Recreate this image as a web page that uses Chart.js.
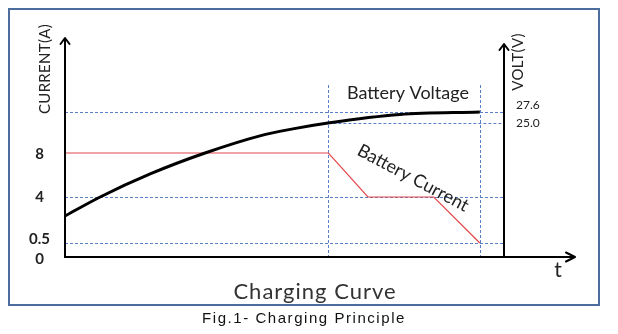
<!DOCTYPE html>
<html>
<head>
<meta charset="utf-8">
<script src="https://cdn.jsdelivr.net/npm/chart.js@4.4.1/dist/chart.umd.min.js"></script>
<style>
html,body{margin:0;padding:0;background:#fff;}
#wrap{position:relative;width:618px;height:334px;overflow:hidden;}
#box{position:absolute;left:8px;top:8px;width:588px;height:294px;border:2px solid #4d6d9e;}
#c{position:absolute;left:0;top:0;}
#cap{position:absolute;left:0;width:608px;top:309px;text-align:center;font:15px "Liberation Sans",Arial,sans-serif;letter-spacing:1.55px;color:#111;white-space:nowrap;}
</style>
</head>
<body>
<div id="wrap">
  <div id="box"></div>
  <canvas id="c" width="618" height="334"></canvas>
  <div id="cap">Fig.1- Charging Principle</div>
</div>
<script>
// ---- data (schematic time units) ----
const voltTime  = [0, 0.8, 1.94, 3.19, 4.44, 5.19, 5.99, 7.63, 9.45];
const voltValue = [7.65, 11.2, 15.5, 19.4, 22.6, 23.9, 25.0, 27.0, 27.6];
const currTime  = [0, 6.0, 6.9, 8.4, 9.45];
const currValue = [8, 8, 4, 4, 0.5];
const currentTicks = [0, 0.5, 4, 8];
const voltTicks = [25.0, 27.6];
const currentGrid = [0.5, 4];
const voltGrid = [27.6, 25.0];
const voltGridFrom = [0, 6.0];
const phaseMarks = [6.0, 9.45];

// piecewise (schematic) value axis
class PiecewiseScale extends Chart.LinearScale {
  static id = 'piecewise';
  _frac(v) {
    const a = this.options.anchors;
    if (v <= a[0][0]) return a[0][1];
    for (let i = 1; i < a.length; i++) {
      if (v <= a[i][0]) {
        const v0 = a[i-1][0], f0 = a[i-1][1], v1 = a[i][0], f1 = a[i][1];
        return f0 + (v - v0) / (v1 - v0) * (f1 - f0);
      }
    }
    return a[a.length-1][1];
  }
  getPixelForValue(value) {
    if (value === null || value === undefined || isNaN(value)) return NaN;
    return this.getPixelForDecimal(this._frac(value));
  }
  getValueForPixel(pixel) {
    const f = this.getDecimalForPixel(pixel);
    const a = this.options.anchors;
    for (let i = 1; i < a.length; i++) {
      if (f <= a[i][1]) {
        const v0 = a[i-1][0], f0 = a[i-1][1], v1 = a[i][0], f1 = a[i][1];
        return v0 + (f - f0) / (f1 - f0) * (v1 - v0);
      }
    }
    return a[a.length-1][0];
  }
  _computeLabelItems(chartArea) {
    const items = super._computeLabelItems(chartArea);
    const nudge = this.options.labelNudge || {};
    items.forEach(it => {
      const d = nudge[String(it.label)];
      if (d) it.options.translation[1] += d;
    });
    return items;
  }
}
Chart.register(PiecewiseScale);

function seg(ctx, x1, y1, x2, y2) { ctx.beginPath(); ctx.moveTo(x1, y1); ctx.lineTo(x2, y2); ctx.stroke(); }

const deco = {
  id: 'deco',
  beforeDatasetsDraw(chart) {
    const {ctx, chartArea: ca} = chart;
    const x = chart.scales.x, y = chart.scales.y, y1 = chart.scales.y1;
    ctx.save();
    ctx.strokeStyle = '#5b80c6';
    ctx.lineWidth = 1;
    ctx.setLineDash([3, 2]);
    currentGrid.forEach(v => {
      const py = Math.round(y.getPixelForValue(v)) + 0.5;
      seg(ctx, ca.left, py, ca.right, py);
    });
    voltGrid.forEach((v, i) => {
      const py = Math.round(y1.getPixelForValue(v)) + 0.5;
      seg(ctx, x.getPixelForValue(voltGridFrom[i]), py, ca.right, py);
    });
    phaseMarks.forEach(t => {
      const px = Math.round(x.getPixelForValue(t)) + 0.5;
      seg(ctx, px, 85, px, ca.bottom);
    });
    ctx.restore();
  },
  afterDraw(chart) {
    const {ctx, chartArea: ca} = chart;
    const x = chart.scales.x, y = chart.scales.y;
    const ox = x.getPixelForValue(0), oy = y.getPixelForValue(0);
    ctx.save();
    ctx.strokeStyle = '#000';
    ctx.lineWidth = 2;
    ctx.lineCap = 'butt';
    seg(ctx, ox, oy + 1, ox, 38);
    seg(ctx, ox - 1, oy, 575, oy);
    seg(ctx, ca.right, oy, ca.right, 44);
    ctx.lineCap = 'round';
    ctx.lineJoin = 'round';
    function arrowUp(px, py) { ctx.beginPath(); ctx.moveTo(px - 4.5, py + 6); ctx.lineTo(px, py); ctx.lineTo(px + 4.5, py + 6); ctx.stroke(); }
    arrowUp(ox, 38);
    arrowUp(ca.right, 44);
    ctx.beginPath(); ctx.moveTo(566, oy - 4.5); ctx.lineTo(575, oy); ctx.lineTo(566, oy + 4.5); ctx.stroke();

    ctx.fillStyle = '#222';
    ctx.textBaseline = 'middle';
    ctx.textAlign = 'center';
    ctx.font = '15px Lato, "Open Sans", sans-serif';
    ctx.letterSpacing = '0.3px';
    ctx.save(); ctx.translate(45, 69); ctx.rotate(-Math.PI / 2); ctx.fillText('CURRENT(A)', 0, 0); ctx.restore();
    ctx.save(); ctx.translate(518, 62); ctx.rotate(-Math.PI / 2); ctx.fillText('VOLT(V)', 0, 0); ctx.restore();
    ctx.letterSpacing = '0px';
    ctx.font = '18px Lato, "Open Sans", sans-serif';
    ctx.fillText('Battery Voltage', 408, 93);
    ctx.save(); ctx.translate(413, 178); ctx.rotate(28 * Math.PI / 180); ctx.fillText('Battery Current', 0, 0); ctx.restore();
    ctx.font = '21px Lato, "Open Sans", sans-serif';
    ctx.fillText('t', 558, 270);
    ctx.fillStyle = '#333';
    ctx.font = '22px Lato, "Open Sans", sans-serif';
    ctx.letterSpacing = '1px';
    ctx.fillText('Charging Curve', 315, 292);
    ctx.restore();
  }
};

new Chart(document.getElementById('c'), {
  type: 'line',
  data: {
    datasets: [
      {
        label: 'Battery Voltage',
        yAxisID: 'y1',
        data: voltTime.map((t, i) => ({x: t, y: voltValue[i]})),
        borderColor: '#000',
        borderWidth: 3,
        pointRadius: 0,
        cubicInterpolationMode: 'monotone',
        fill: false
      },
      {
        label: 'Battery Current',
        yAxisID: 'y',
        data: currTime.map((t, i) => ({x: t, y: currValue[i]})),
        borderColor: '#e4474b',
        borderWidth: 1.2,
        pointRadius: 0,
        tension: 0,
        fill: false
      }
    ]
  },
  options: {
    responsive: false,
    animation: false,
    events: [],
    layout: {padding: {left: 0, right: 0, top: 25, bottom: 77}},
    plugins: {legend: {display: false}, tooltip: {enabled: false}, title: {display: false}},
    scales: {
      x: {
        type: 'linear', min: 0, max: 10, display: false
      },
      y: {
        type: 'piecewise',
        position: 'left',
        min: 0, max: 19.6,
        anchors: [[0, 0], [0.5, 0.0603], [4, 0.2586], [8, 0.4483], [19.6, 1]],
        labelNudge: {'0': 2, '0.5': -4, '8': 1},
        afterBuildTicks: s => { s.ticks = currentTicks.map(v => ({value: v})); },
        afterFit: s => { s.width = 65; },
        grid: {display: false, drawTicks: false},
        border: {display: false},
        ticks: {
          autoSkip: false,
          crossAlign: 'center',
          padding: 15,
          color: '#222',
          font: {family: 'Lato, "Open Sans", sans-serif', size: 15, weight: 'bold'},
          callback: v => String(v)
        }
      },
      y1: {
        type: 'piecewise',
        position: 'right',
        min: 0, max: 48,
        anchors: [[0, 0], [25.0, 0.5776], [27.6, 0.625], [48, 1]],
        labelNudge: {'27.6': -7},
        afterBuildTicks: s => { s.ticks = voltTicks.map(v => ({value: v})); },
        afterFit: s => { s.width = 114; },
        grid: {display: false, drawTicks: false},
        border: {display: false},
        ticks: {
          autoSkip: false,
          crossAlign: 'near',
          padding: 12,
          color: '#222',
          font: {family: 'Lato, "Open Sans", sans-serif', size: 12},
          callback: v => Number(v).toFixed(1)
        }
      }
    }
  },
  plugins: [deco]
});
</script>
</body>
</html>
